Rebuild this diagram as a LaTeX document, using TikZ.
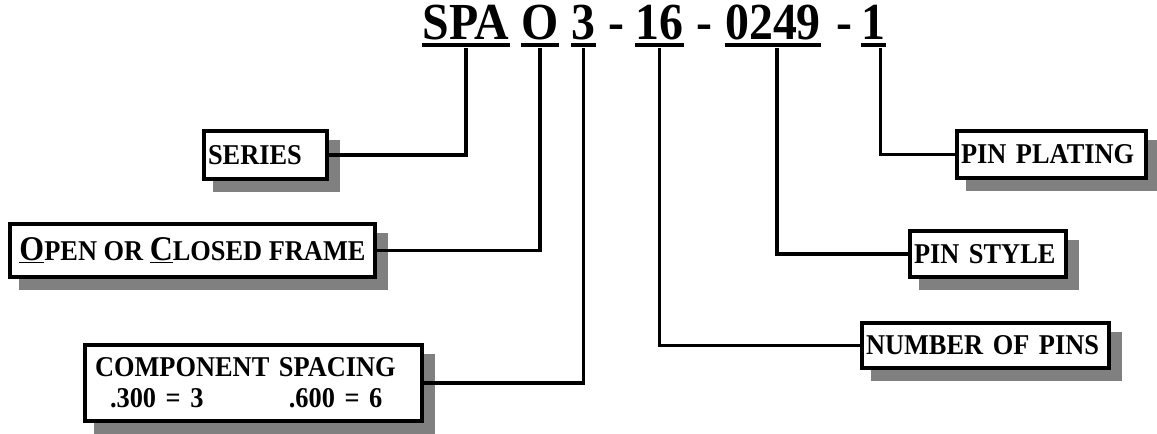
\documentclass[tikz,border=0pt]{standalone}
\usepackage{fontspec}
\setmainfont{Liberation Serif}[FakeStretch=0.92]
\usetikzlibrary{backgrounds}
\definecolor{shadegray}{HTML}{808080}
\tikzset{
  part/.style={font=\fontsize{39}{42}\selectfont\bfseries, inner sep=0pt, anchor=base},
  uline/.style={line width=3pt},
  lead/.style={line width=2.4pt},
  field/.style={draw, line width=3pt, fill=white, font=\fontsize{21.5}{23.25}\selectfont\bfseries,
                inner xsep=3pt, inner ysep=1pt, align=left},
  drop/.style={fill=shadegray}
}
\newcommand{\lowcaps}[1]{{\fontsize{21.5}{24}\selectfont #1}}

\begin{document}
\begin{tikzpicture}[x=0.75pt, y=-0.75pt]
\useasboundingbox (0,0) rectangle (1157,434);
% part number
\node[part] (pSPA)  at (466,40)   {SPA};
\node[part] (pO)    at (540,40)   {O};
\node[part] (p3)    at (583.5,40) {3};
\node[part] (d1)    at (616,40)   {-};
\node[part] (p16)   at (659.5,40) {16};
\node[part] (d2)    at (704,40)   {-};
\node[part] (p0249) at (773,40)   {0249};
\node[part] (d3)    at (844,40)   {-};
\node[part] (p1)    at (873.5,40) {1};
\foreach \p in {pSPA,pO,p3,p16,p0249,p1}
  \draw[uline] ([yshift=-3.75pt]\p.base west) -- ([yshift=-3.75pt]\p.base east);
% fields
\node[field, text width=86.25pt, minimum height=36pt] (bSeries) at (265.5,155) {SERIES};
\node[field, minimum width=273.75pt, minimum height=39.75pt] (bFrame) at (192.5,250.5)
  {\fontsize{26}{28}\selectfont\underline{O}\lowcaps{PEN OR }\underline{C}\lowcaps{LOSED FRAME}};
\node[field, text width=246.75pt, minimum height=57pt] (bSpacing) at (253.5,383)
  {\hspace*{4.5pt}COMPONENT SPACING\\ \hspace*{15.75pt}.300 = 3\hspace{64pt}.600 = 6};
\node[field, text width=179.25pt, minimum height=33.75pt] (bPins) at (985.5,345.5) {NUMBER OF PINS};
\node[field, text width=111pt, minimum height=34.5pt] (bStyle) at (988,254) {PIN STYLE};
\node[field, text width=135.75pt, minimum height=35.25pt] (bPlating) at (1051.5,154.5) {PIN PLATING};
\begin{scope}[on background layer]
\foreach \b in {bSeries,bFrame,bSpacing,bPins,bStyle,bPlating}
  \fill[drop] ([shift={(11,11)}]\b.north west) rectangle ([shift={(11,11)}]\b.south east);
\end{scope}
% leaders
\draw[lead] ([yshift=-6pt]pSPA.base) |- (bSeries.east);
\draw[lead] ([yshift=-6pt]pO.base) |- (bFrame.east);
\draw[lead] ([yshift=-6pt]p3.base) |- (bSpacing.east);
\draw[lead] ([yshift=-6pt]p16.base) |- (bPins.west);
\draw[lead] ([xshift=3pt,yshift=-6pt]p0249.base) |- (bStyle.west);
\draw[lead] ([xshift=5pt,yshift=-6pt]p1.base) |- (bPlating.west);
\end{tikzpicture}
\end{document}
